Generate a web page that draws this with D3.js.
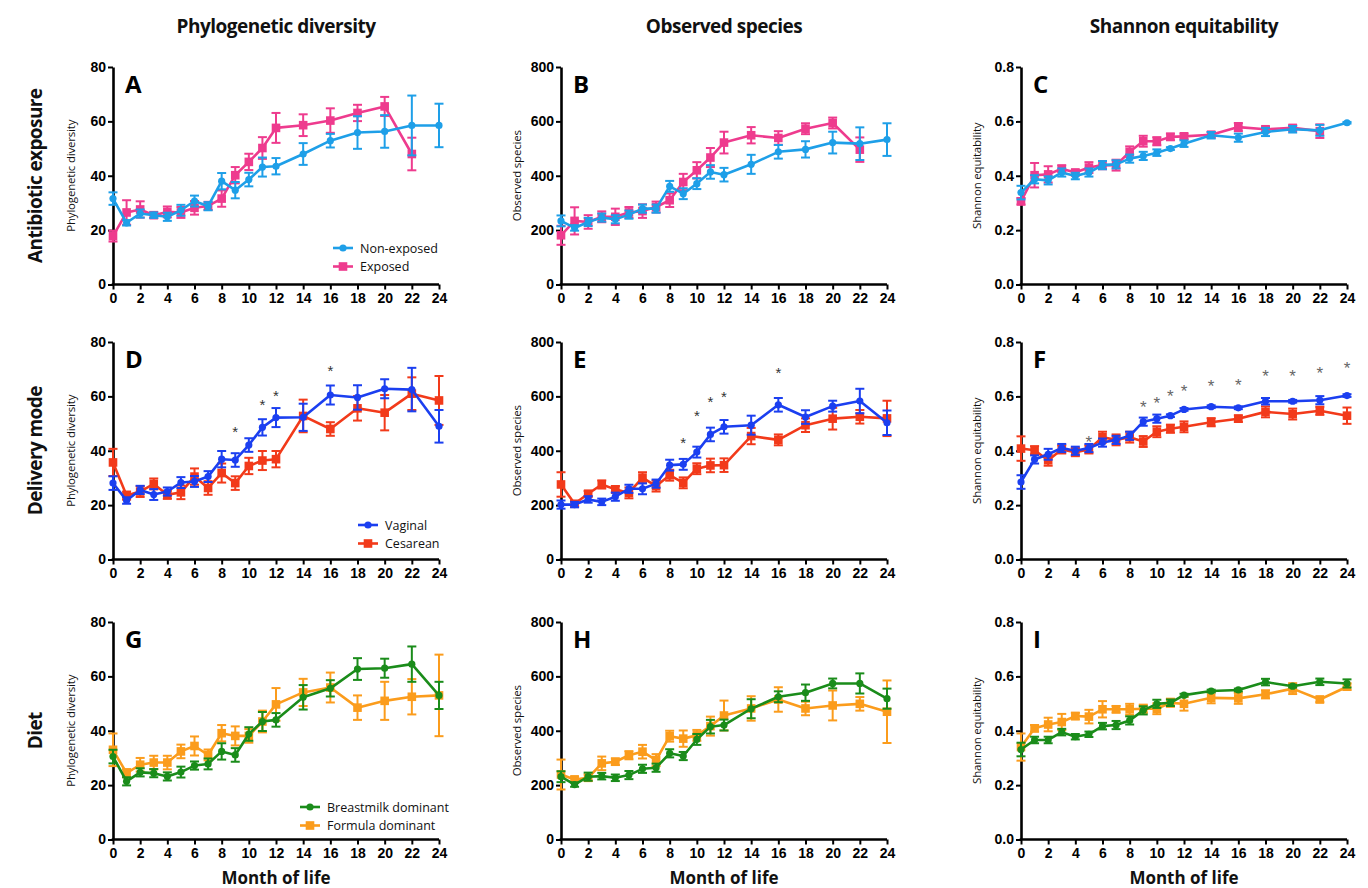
<!DOCTYPE html>
<html><head><meta charset="utf-8">
<script src="https://cdn.jsdelivr.net/npm/d3@7"></script>
<style>body{margin:0;background:#fff;} svg{display:block;}</style>
</head><body><svg id="c" width="1368" height="888"></svg>
<script>
// ---------- DATA ----------
const months = [0,1,2,3,4,5,6,7,8,9,10,11,12,14,16,18,20,22,24];
const xTicks = [0,2,4,6,8,10,12,14,16,18,20,22,24];
const colTitles = ["Phylogenetic diversity","Observed species","Shannon equitability"];
const rowTitles = ["Antibiotic exposure","Delivery mode","Diet"];
const yLabels = ["Phylogenetic diversity","Observed species","Shannon equitability"];
const yTicksPD = [0,20,40,60,80];
const yTicksOS = [0,200,400,600,800];
const yTicksSE = [0,0.2,0.4,0.6,0.8];
const letters = ["A","B","C","D","E","F","G","H","I"];
const seriesNames = [["Non-exposed","Exposed"],["Vaginal","Cesarean"],["Breastmilk dominant","Formula dominant"]];

// Row 1: antibiotic exposure
const pdNonExp     = [31.6,22.7,26.1,25.5,24.9,27.3,30.7,28.8,38.0,34.7,38.6,43.2,43.5,48.0,52.9,55.9,56.3,58.5,58.5];
const pdNonExpErr  = [2.3,1,1.5,1,1.5,2,2,1.5,3,3,2.5,3.5,3,4,2.5,6,6,11,8];
const pdExp        = [17.8,26.5,27.6,25.5,26.7,26.5,28.2,28.9,31.6,40.2,45.1,50.2,57.6,58.6,60.3,63.1,65.5,48,null];
const pdExpErr     = [2,4.5,3,1,2,2,2.5,1.5,3,3,3,4,5.5,4,4.5,3,3.5,6,null];
const osNonExp     = [234,208,230,246,240,257,279,279,361,334,371,414,404,442,488,497,522,518,533];
const osNonExpErr  = [20,10,15,15,15,15,15,15,20,20,20,25,25,35,25,30,40,60,60];
const osExp        = [181,234,230,249,249,265,270,285,310,377,420,467,522,549,539,573,594,496,null];
const osExpErr     = [35,50,25,20,30,20,25,20,25,30,30,35,40,30,25,20,20,45,null];
const seNonExp     = [0.338,0.387,0.383,0.412,0.399,0.412,0.439,0.442,0.463,0.473,0.485,0.500,0.518,0.549,0.540,0.561,0.571,0.567,0.595];
const seNonExpErr  = [0.025,0.015,0.015,0.015,0.012,0.015,0.015,0.015,0.015,0.015,0.012,0.005,0.012,0.012,0.015,0.015,0.012,0.02,0.003];
const seExp        = [0.306,0.402,0.405,0.426,0.412,0.430,0.439,0.439,0.488,0.527,0.527,0.543,0.545,0.551,0.579,0.571,0.576,0.564,null];
const seExpErr     = [0.012,0.045,0.03,0.012,0.01,0.02,0.015,0.02,0.02,0.02,0.015,0.012,0.01,0.01,0.015,0.01,0.01,0.025,null];

// Row 2: delivery mode
const pdVag        = [28.1,21.7,25.6,23.9,25.0,28.3,28.7,30.5,36.9,36.6,42.1,48.6,52.2,52.3,60.5,59.6,62.8,62.5,49];
const pdVagErr     = [2.5,1.2,1.5,2,1.5,2,2,2,3,2.5,2.5,3,3.5,5,3.5,4.5,3.5,8,6];
const pdCes        = [35.7,23.5,25.0,27.8,23.8,24.7,30.5,26.3,31.8,28.1,34.4,36.4,36.9,52.8,48.0,55.6,54,61,58.5];
const pdCesErr     = [5,1.5,2,2,1.5,2.5,3,2.5,3.5,2.5,3,3.5,3,6,2.5,4.5,6.5,6,9];
const osVag        = [202,202,221,212,231,260,260,279,347,350,395,460,488,494,569,524,564,583,503];
const osVagErr     = [15,10,12,12,15,15,20,15,20,20,20,25,25,35,25,25,20,45,45];
const osCes        = [276,205,242,276,258,245,301,270,310,282,334,346,347,454,440,494,518,525,519];
const osCesErr     = [45,10,10,15,12,20,20,20,20,20,20,25,25,30,20,25,40,25,65];
const seVag        = [0.285,0.368,0.387,0.41,0.40,0.41,0.43,0.44,0.455,0.507,0.518,0.529,0.552,0.562,0.558,0.582,0.582,0.586,0.603];
const seVagErr     = [0.025,0.015,0.02,0.015,0.015,0.015,0.015,0.015,0.015,0.015,0.015,0.005,0.005,0.005,0.005,0.012,0.005,0.015,0.005];
const seCes        = [0.408,0.402,0.365,0.405,0.395,0.405,0.45,0.44,0.45,0.434,0.47,0.481,0.488,0.505,0.518,0.543,0.535,0.547,0.529];
const seCesErr     = [0.045,0.015,0.02,0.015,0.015,0.015,0.02,0.02,0.02,0.02,0.02,0.015,0.02,0.015,0.012,0.02,0.02,0.015,0.03];

// Row 3: diet
const pdBreast     = [30.5,21.4,24.7,24.4,23.2,24.8,27.2,27.8,32.4,31.1,38.8,43.4,44.0,52.3,55.6,62.7,63,64.5,53];
const pdBreastErr  = [2.5,1.5,1.5,1.5,1.5,2,1.5,2,3,2.5,2.5,3.5,2.5,4.5,3,4,3.5,6.5,5];
const pdFormula    = [33,24.4,27.5,28.3,28.3,32.4,34.4,31.1,39.1,38.1,38.1,43.4,49.7,54.1,55.9,48.5,51,52.5,53];
const pdFormulaErr = [6,1.5,2.5,2.5,2.5,2.5,3.5,2,3,3.5,2.5,4,6,5,5.5,4.5,7,6.5,15];
const osBreast     = [231,202,231,233,227,237,260,264,317,307,368,415,421,481,525,540,574,574,518];
const osBreastErr  = [20,8,15,12,12,15,15,15,15,15,20,25,20,35,20,30,18,37,37];
const osFormula    = [239,221,227,280,286,310,323,292,380,371,383,417,456,482,515,482,493,499,470];
const osFormulaErr = [55,10,12,25,12,15,25,22,20,30,20,35,55,45,45,25,55,25,115];
const seBreast     = [0.331,0.366,0.366,0.395,0.378,0.387,0.417,0.421,0.438,0.475,0.499,0.503,0.531,0.546,0.55,0.579,0.564,0.58,0.574];
const seBreastErr  = [0.025,0.012,0.012,0.012,0.01,0.01,0.012,0.015,0.015,0.015,0.015,0.012,0.005,0.005,0.005,0.012,0.005,0.012,0.015];
const seFormula    = [0.34,0.409,0.423,0.432,0.454,0.452,0.479,0.479,0.479,0.481,0.481,0.503,0.499,0.521,0.519,0.534,0.555,0.515,0.562];
const seFormulaErr = [0.05,0.012,0.025,0.03,0.012,0.025,0.03,0.012,0.02,0.015,0.02,0.015,0.025,0.02,0.02,0.015,0.02,0.01,0.012];

// significance markers
const starMonthsD = [9,11,12,16];
const starValsD   = [47.6,57.4,61,70.2];
const starMonthsE = [9,10,11,12,16];
const starValsE   = [436,534,587,604,693];
const starMonthsF = [5,9,10,11,12,14,16,18,20,22,24];
const starValsF   = [0.441,0.567,0.583,0.61,0.628,0.644,0.65,0.684,0.684,0.692,0.711];

// ---------- LAYOUT / STYLE ----------
const colX = [113,561,1021];
const rowTop = [67,342,622];
const pw = 326, ph = 217.5;
const rowColors = [["#1e9fe8","#ee3b8e"],["#1b3ff0","#f23a1a"],["#1a8c1a","#fb9c1c"]];

const panelData = [
  [[pdNonExp,pdNonExpErr,pdExp,pdExpErr],[osNonExp,osNonExpErr,osExp,osExpErr],[seNonExp,seNonExpErr,seExp,seExpErr]],
  [[pdVag,pdVagErr,pdCes,pdCesErr],[osVag,osVagErr,osCes,osCesErr],[seVag,seVagErr,seCes,seCesErr]],
  [[pdBreast,pdBreastErr,pdFormula,pdFormulaErr],[osBreast,osBreastErr,osFormula,osFormulaErr],[seBreast,seBreastErr,seFormula,seFormulaErr]]
];
const yTickSets = [yTicksPD,yTicksOS,yTicksSE];
const yFormats = [d3.format("d"),d3.format("d"),d3.format(".1f")];
const stars = {"1-0":[starMonthsD,starValsD,"#333",15],"1-1":[starMonthsE,starValsE,"#333",15],"1-2":[starMonthsF,starValsF,"#666",17]};

const svg = d3.select("#c");
const TICKFONT = "'Liberation Sans', Arial, sans-serif";
const TXTFONT = "'Open Sans', 'Noto Sans', sans-serif";

// column titles
colTitles.forEach((t,i)=>{
  svg.append("text").attr("x",colX[i]+pw/2).attr("y",33).attr("text-anchor","middle")
    .attr("font-family",TXTFONT).attr("font-weight","bold").attr("font-size",19)
    .attr("letter-spacing",-0.5).attr("fill","#111").text(t);
});
// row titles
rowTitles.forEach((t,i)=>{
  const cy = rowTop[i]+ph/2;
  svg.append("text").attr("transform",`translate(42,${cy}) rotate(-90)`).attr("text-anchor","middle")
    .attr("font-family",TXTFONT).attr("font-weight","bold").attr("font-size",19)
    .attr("letter-spacing",-0.6).attr("fill","#111").text(t);
});

for(let r=0;r<3;r++){
  for(let c=0;c<3;c++){
    const g = svg.append("g").attr("transform",`translate(${colX[c]},${rowTop[r]})`);
    const ticks = yTickSets[c];
    const x = d3.scaleLinear().domain([0,24]).range([0,pw]);
    const y = d3.scaleLinear().domain([0,ticks[ticks.length-1]]).range([ph,0]);
    const [m1,e1,m2,e2] = panelData[r][c];
    const cols = rowColors[r];

    // axes
    const xa = g.append("g").attr("transform",`translate(0,${ph})`)
      .call(d3.axisBottom(x).tickValues(xTicks).tickSize(5).tickPadding(4).tickSizeOuter(0));
    const ya = g.append("g").call(d3.axisLeft(y).tickValues(ticks).tickFormat(yFormats[c]).tickSize(5).tickPadding(2).tickSizeOuter(0));
    [xa,ya].forEach(a=>{
      a.select(".domain").attr("stroke","#000").attr("stroke-width",2.6);
      a.selectAll(".tick line").attr("stroke","#000").attr("stroke-width",2);
      a.selectAll(".tick text").attr("font-family",TICKFONT).attr("font-weight","bold").attr("font-size",14).attr("fill","#000");
    });
    xa.select(".domain").attr("d",`M-1.3,0H${pw}`);

    // y label
    g.append("text").attr("transform",`translate(${c===0?-38:-40},${ph/2}) rotate(-90)`).attr("text-anchor","middle")
      .attr("font-family",TXTFONT).attr("font-size",11.5).attr("letter-spacing",-0.2).attr("fill","#111").text(yLabels[c]);
    // panel letter
    g.append("text").attr("x",12).attr("y",26).attr("font-family",TXTFONT).attr("font-weight","bold")
      .attr("font-size",24).attr("fill","#000").text(letters[r*3+c]);

    // series: draw second (squares) first, then first (circles)
    const series = [
      {m:m2,e:e2,col:cols[1],shape:"square"},
      {m:m1,e:e1,col:cols[0],shape:"circle"}
    ];
    series.forEach(s=>{
      const pts = months.map((mo,i)=>({mo,v:s.m[i],e:s.e[i]})).filter(d=>d.v!=null);
      const sg = g.append("g");
      sg.append("path").datum(pts)
        .attr("d",d3.line().x(d=>x(d.mo)).y(d=>y(d.v)))
        .attr("fill","none").attr("stroke",s.col).attr("stroke-width",2.6).attr("stroke-linejoin","round");
      const eb = sg.selectAll("g.eb").data(pts).join("g");
      eb.append("line").attr("x1",d=>x(d.mo)).attr("x2",d=>x(d.mo))
        .attr("y1",d=>y(d.v-d.e)).attr("y2",d=>y(d.v+d.e)).attr("stroke",s.col).attr("stroke-width",2);
      eb.append("line").attr("x1",d=>x(d.mo)-4.5).attr("x2",d=>x(d.mo)+4.5)
        .attr("y1",d=>y(d.v+d.e)).attr("y2",d=>y(d.v+d.e)).attr("stroke",s.col).attr("stroke-width",2);
      eb.append("line").attr("x1",d=>x(d.mo)-4.5).attr("x2",d=>x(d.mo)+4.5)
        .attr("y1",d=>y(d.v-d.e)).attr("y2",d=>y(d.v-d.e)).attr("stroke",s.col).attr("stroke-width",2);
      if(s.shape==="circle"){
        sg.selectAll("circle").data(pts).join("circle").attr("cx",d=>x(d.mo)).attr("cy",d=>y(d.v)).attr("r",3.6).attr("fill",s.col);
      } else {
        sg.selectAll("rect").data(pts).join("rect").attr("x",d=>x(d.mo)-4.3).attr("y",d=>y(d.v)-4.3)
          .attr("width",8.6).attr("height",8.6).attr("fill",s.col);
      }
    });

    // significance stars
    const st = stars[`${r}-${c}`];
    if(st){
      const [sm,sv,scol,fs] = st;
      sm.forEach((mo,i)=>{
        g.append("text").attr("x",x(mo)).attr("y",y(sv[i])+fs*0.47).attr("text-anchor","middle")
          .attr("font-family",TICKFONT).attr("font-size",fs).attr("fill",scol).text("*");
      });
    }

    // legend in first column
    if(c===0){
      const names = seriesNames[r];
      const lx = [333,358,300][r]-colX[0];
      const ly = [248,525,807][r]-rowTop[r];
      [0,1].forEach(k=>{
        const yy = ly + k*18.5;
        g.append("line").attr("x1",lx).attr("x2",lx+20).attr("y1",yy).attr("y2",yy).attr("stroke",cols[k]).attr("stroke-width",2.6);
        if(k===0) g.append("circle").attr("cx",lx+10).attr("cy",yy).attr("r",3.6).attr("fill",cols[k]);
        else g.append("rect").attr("x",lx+10-4.3).attr("y",yy-4.3).attr("width",8.6).attr("height",8.6).attr("fill",cols[k]);
        g.append("text").attr("x",lx+27).attr("y",yy+4.5).attr("font-family",TXTFONT).attr("font-size",12.5)
          .attr("fill","#111").text(names[k]);
      });
    }

    // x axis title on bottom row
    if(r===2){
      g.append("text").attr("x",pw/2).attr("y",ph+44).attr("text-anchor","middle")
        .attr("font-family",TXTFONT).attr("font-weight","bold").attr("font-size",17).attr("fill","#111").text("Month of life");
    }
  }
}
</script></body></html>
